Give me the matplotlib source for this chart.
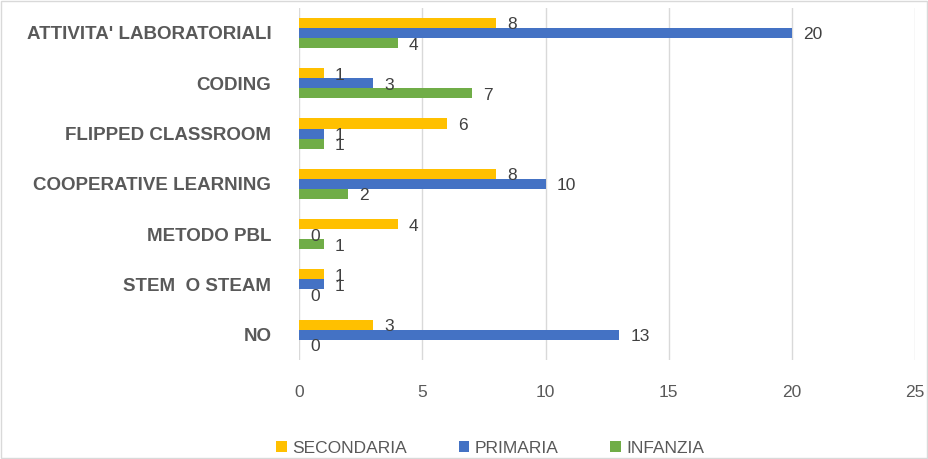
import matplotlib.pyplot as plt
import numpy as np

categories = ["ATTIVITA' LABORATORIALI", "CODING", "FLIPPED CLASSROOM",
              "COOPERATIVE LEARNING", "METODO PBL", "STEM  O STEAM", "NO"]
secondaria = [8, 1, 6, 8, 4, 1, 3]
primaria = [20, 3, 1, 10, 0, 1, 13]
infanzia = [4, 7, 1, 2, 1, 0, 0]
series_names = ['SECONDARIA', 'PRIMARIA', 'INFANZIA']
colors = ['#FFC000', '#4472C4', '#70AD47']
xticks = [0, 5, 10, 15, 20, 25]


def main():
    fig = plt.figure(figsize=(9.29, 4.59), dpi=100)
    ax = fig.add_axes([0.322, 0.216, 0.663, 0.767])

    y = np.arange(len(categories))
    h = 0.2
    for k, (vals, name, c) in enumerate(zip([secondaria, primaria, infanzia], series_names, colors)):
        pos = y + (k - 1) * h
        ax.barh(pos, vals, height=h, color=c, label=name, zorder=2)
        for p, v in zip(pos, vals):
            ax.text(v + 0.45, p + 0.04, str(v), va='center', ha='left',
                    fontsize=12.5, color='#404040', family='Liberation Sans')

    ax.set_ylim(len(categories) - 0.5, -0.5)
    ax.set_xlim(0, 25)
    ax.set_xticks(xticks)
    ax.set_yticks(y)
    ax.set_yticklabels(categories, fontsize=13.5, fontweight='bold',
                       color='#595959', family='Liberation Sans')
    for lab in ax.get_xticklabels():
        lab.set_fontsize(12.5)
        lab.set_color('#595959')
        lab.set_family('Liberation Sans')
    ax.tick_params(length=0)
    ax.tick_params(axis='x', pad=18)
    ax.tick_params(axis='y', pad=20)
    ax.grid(axis='x', color='#D9D9D9', linewidth=1, zorder=0)
    for s in ax.spines.values():
        s.set_visible(False)

    leg = ax.legend(loc='upper center', bbox_to_anchor=(0.31, -0.185), ncol=3,
                    frameon=False, handlelength=0.6, handleheight=0.6,
                    handletextpad=0.3, columnspacing=3.0,
                    prop={'family': 'Liberation Sans', 'size': 12.5})
    for t in leg.get_texts():
        t.set_color('#595959')

    fig.patches.append(plt.Rectangle((0.001, 0.002), 0.997, 0.996, transform=fig.transFigure,
                                     fill=False, edgecolor='#D9D9D9', linewidth=1))
    fig.savefig('out.png', dpi=100)


if __name__ == '__main__':
    main()
